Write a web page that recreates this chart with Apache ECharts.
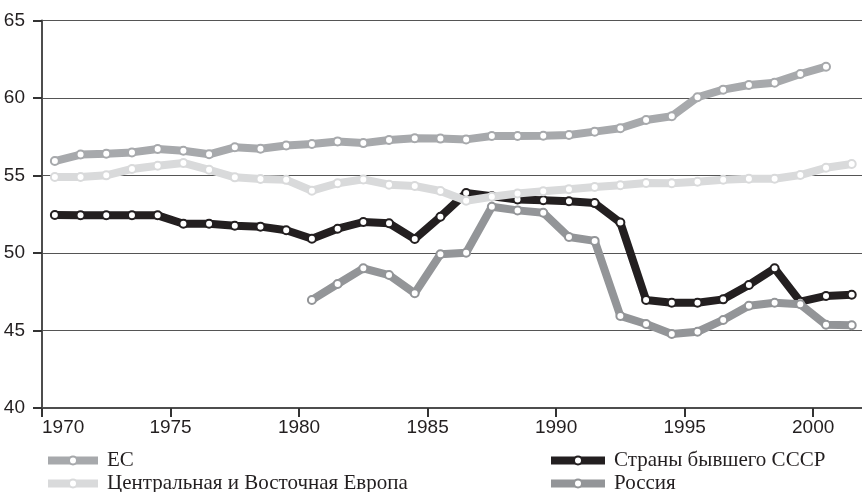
<!DOCTYPE html>
<html>
<head>
<meta charset="utf-8">
<script src="https://cdn.jsdelivr.net/npm/echarts@6/dist/echarts.min.js"></script>
<style>
html,body{margin:0;padding:0;background:#fff;}
#c{width:862px;height:492px;}
</style>
</head>
<body>
<div id="c"></div>
<script>
const years = [1970,1971,1972,1973,1974,1975,1976,1977,1978,1979,1980,1981,1982,1983,1984,1985,1986,1987,1988,1989,1990,1991,1992,1993,1994,1995,1996,1997,1998,1999,2000,2001];
const euValues = [55.93,56.35,56.41,56.49,56.71,56.60,56.37,56.82,56.73,56.93,57.03,57.20,57.09,57.29,57.40,57.38,57.33,57.55,57.55,57.57,57.61,57.83,58.05,58.58,58.82,60.05,60.54,60.84,60.99,61.55,62.02,null];
const ceeValues = [54.90,54.90,55.01,55.42,55.63,55.81,55.37,54.88,54.77,54.72,54.02,54.50,54.75,54.41,54.32,54.00,53.37,53.63,53.84,53.98,54.12,54.26,54.37,54.52,54.50,54.60,54.73,54.79,54.79,55.03,55.50,55.74];
const ussrValues = [52.45,52.43,52.43,52.43,52.43,51.89,51.89,51.76,51.70,51.47,50.92,51.57,52.00,51.92,50.90,52.34,53.87,53.66,53.45,53.40,53.34,53.22,51.96,46.97,46.79,46.79,47.01,47.94,49.01,46.86,47.23,47.31];
const russiaValues = [null,null,null,null,null,null,null,null,null,null,46.97,48.00,49.01,48.58,47.40,49.92,50.02,52.98,52.75,52.60,51.03,50.78,45.94,45.42,44.77,44.92,45.68,46.60,46.79,46.69,45.37,45.34];
const seriesNames = ['ЕС','Центральная и Восточная Европа','Страны бывшего СССР','Россия'];
const yTicks = [40,45,50,55,60,65];

const colors = {
  'ЕС': '#a7a9ac',
  'Центральная и Восточная Европа': '#d9dadb',
  'Страны бывшего СССР': '#231f20',
  'Россия': '#939598'
};

function toPoints(vals) {
  // annual values are plotted at mid-year
  return years.map((y, i) => [y + 0.5, vals[i]]).filter(d => d[1] !== null);
}

function mkSeries(name, vals, z) {
  const c = colors[name];
  return {
    name: name, type: 'line', data: toPoints(vals), z: z,
    symbol: 'circle', symbolSize: 8, showSymbol: true,
    lineStyle: { color: c, width: 8 },
    itemStyle: { color: '#ffffff', borderColor: c, borderWidth: 2 },
    emphasis: { disabled: true }, animation: false
  };
}

const axisFont = "'Liberation Sans', Arial, sans-serif";
const legendFont = "'Liberation Serif','Times New Roman',serif";

function legendCol(names, left, w) {
  return {
    data: names, orient: 'vertical',
    left: left, top: 449.5, height: 60, padding: 0,
    itemWidth: w, itemHeight: 10, itemGap: 1,
    lineStyle: { width: 8 }, itemStyle: { borderWidth: 2 },
    textStyle: { fontFamily: legendFont, fontSize: 21, lineHeight: 22, color: '#231f20', padding: [0,0,0,4] },
    selectedMode: false
  };
}

const chart = echarts.init(document.getElementById('c'), null, { renderer: 'canvas' });
chart.setOption({
  backgroundColor: '#ffffff',
  animation: false,
  grid: { left: 42, right: -3, top: 20.5, bottom: 84, containLabel: false },
  xAxis: {
    type: 'value', min: years[0], max: 2001.9, interval: 5,
    axisLine: { show: true, onZero: false, lineStyle: { color: '#4d4d4d', width: 2 } },
    axisTick: { show: true, length: 9, lineStyle: { color: '#333', width: 2 } },
    axisLabel: { margin: 10, fontFamily: axisFont, fontSize: 19, color: '#231f20', showMaxLabel: false, alignMinLabel: 'left', formatter: v => String(v) },
    splitLine: { show: false }
  },
  yAxis: {
    type: 'value', min: yTicks[0], max: yTicks[yTicks.length - 1], interval: 5,
    axisLine: { show: true, lineStyle: { color: '#4d4d4d', width: 2 } },
    axisTick: { show: true, length: 9, lineStyle: { color: '#333', width: 2 } },
    axisLabel: { margin: 17, fontFamily: axisFont, fontSize: 19, color: '#231f20' },
    splitLine: { show: true, lineStyle: { color: '#555555', width: 1 } }
  },
  legend: [
    legendCol([seriesNames[0], seriesNames[1]], 44, 50),
    legendCol([seriesNames[2], seriesNames[3]], 547, 54)
  ],
  series: [
    mkSeries(seriesNames[0], euValues, 2),
    mkSeries(seriesNames[2], ussrValues, 3),
    mkSeries(seriesNames[1], ceeValues, 4),
    mkSeries(seriesNames[3], russiaValues, 5)
  ]
});
</script>
</body>
</html>
